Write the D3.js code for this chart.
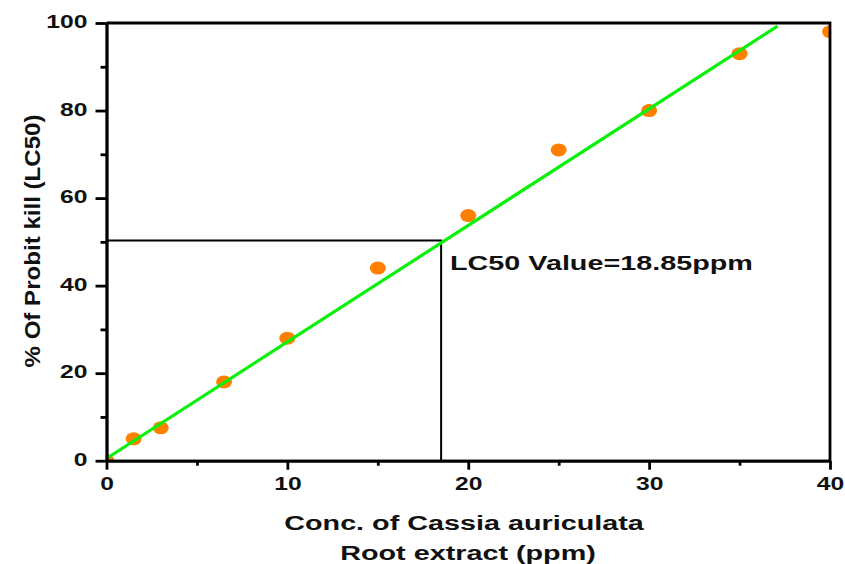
<!DOCTYPE html>
<html>
<head>
<meta charset="utf-8">
<script src="https://cdn.jsdelivr.net/npm/d3@7"></script>
<style>
  body { margin: 0; background: #fff; }
  text { font-family: Arial, "Liberation Sans", sans-serif; font-weight: bold; fill: #111; }
</style>
</head>
<body>
<div id="vis"></div>
<script>
const concX = [0, 1.5, 3, 6.5, 10, 15, 20, 25, 30, 35, 40];
const killY = [0, 5, 7.5, 18, 28, 44, 56, 71, 80, 93, 98];
const fitX = [0, 37.1];
const fitY = [0.5, 99.3];
const lc50X = 18.5;   // where the guide is drawn
const lc50Y = 50.3;
const xMajor = [0, 10, 20, 30, 40];
const xMinor = [5, 15, 25, 35];
const yMajor = [0, 20, 40, 60, 80, 100];
const yMinor = [10, 30, 50, 70, 90];

class ProbitChart {
    constructor() {
        this.config = {
            width: 845,
            height: 564,
            left: 106.5,
            right: 830,
            top: 23,
            bottom: 460.7,
            stretch: 1.37
        }
        this.initVis();
    }
    initVis() {
        let vis = this;
        vis.svg = d3.select('#vis')
            .append('svg')
            .attr('width', vis.config.width)
            .attr('height', vis.config.height);

        vis.x = d3.scaleLinear().domain([0, 40]).range([vis.config.left, vis.config.right]);
        vis.y = d3.scaleLinear().domain([0, 100]).range([vis.config.bottom, vis.config.top]);

        vis.svg.append('clipPath').attr('id', 'plot')
            .append('rect')
            .attr('x', vis.config.left)
            .attr('y', vis.config.top)
            .attr('width', vis.config.right - vis.config.left)
            .attr('height', vis.config.bottom - vis.config.top);
    }
    renderVis() {
        let vis = this;
        const x = vis.x, y = vis.y, sx = vis.config.stretch;

        // points
        vis.svg.append('g')
            .attr('clip-path', 'url(#plot)')
            .selectAll('ellipse')
            .data(concX.map((c, i) => ({ c: c, k: killY[i] })))
            .join('ellipse')
            .attr('cx', d => x(d.c))
            .attr('cy', d => y(d.k))
            .attr('rx', 8)
            .attr('ry', 6.5)
            .style('fill', '#ff8000');

        // LC50 guides
        vis.svg.append('path')
            .attr('d', `M${x(0)},${y(lc50Y)}H${x(lc50X)}V${y(0)}`)
            .style('fill', 'none')
            .style('stroke', '#000')
            .style('stroke-width', 2);

        // fitted line
        vis.svg.append('path')
            .datum(fitX.map((v, i) => [v, fitY[i]]))
            .attr('d', d3.line().x(d => x(d[0])).y(d => y(d[1])))
            .style('fill', 'none')
            .style('stroke', '#0af00a')
            .style('stroke-width', 3.2);

        // axes
        const xAxis = vis.svg.append('g')
            .attr('transform', `translate(0,${vis.config.bottom})`)
            .call(d3.axisBottom(x).tickValues(xMajor).tickSize(9).tickSizeOuter(0).tickFormat(d3.format('d')));
        vis.svg.append('g')
            .attr('transform', `translate(0,${vis.config.bottom})`)
            .call(d3.axisBottom(x).tickValues(xMinor).tickSize(5).tickSizeOuter(0).tickFormat(''));
        const yAxis = vis.svg.append('g')
            .attr('transform', `translate(${vis.config.left},0)`)
            .call(d3.axisLeft(y).tickValues(yMajor).tickSize(11).tickSizeOuter(0).tickFormat(d3.format('d')));
        vis.svg.append('g')
            .attr('transform', `translate(${vis.config.left},0)`)
            .call(d3.axisLeft(y).tickValues(yMinor).tickSize(6).tickSizeOuter(0).tickFormat(''));

        vis.svg.selectAll('.domain, .tick line')
            .style('stroke', '#000')
            .style('stroke-width', 2.8);

        xAxis.selectAll('text')
            .attr('y', 17)
            .attr('transform', `scale(${sx},1)`)
            .style('font-size', '18px')
            .style('font-family', 'Arial, "Liberation Sans", sans-serif')
            .style('font-weight', 'bold')
            .style('fill', '#111');
        yAxis.selectAll('text')
            .attr('x', -19 / sx)
            .attr('dy', '0.25em')
            .attr('transform', `scale(${sx},1)`)
            .style('font-size', '18px')
            .style('font-family', 'Arial, "Liberation Sans", sans-serif')
            .style('font-weight', 'bold')
            .style('fill', '#111');

        // frame top and right
        vis.svg.append('path')
            .attr('d', `M${x(0)},${y(100)}H${x(40) + 1.4}M${x(40)},${y(100)}V${y(0)}`)
            .style('fill', 'none')
            .style('stroke', '#000')
            .style('stroke-width', 2.8);

        // labels
        const label = (tx, ty, str, size, anchor) => vis.svg.append('text')
            .attr('transform', `translate(${tx},${ty}) scale(${sx},1)`)
            .attr('text-anchor', anchor)
            .style('font-size', size + 'px')
            .text(str);

        label(450, 270, 'LC50 Value=18.85ppm', 21, 'start');
        label(464, 530, 'Conc. of Cassia auriculata', 21, 'middle');
        label(468, 560, 'Root extract (ppm)', 21, 'middle');

        vis.svg.append('text')
            .attr('transform', 'translate(40,241) rotate(-90)')
            .attr('text-anchor', 'middle')
            .attr('textLength', 253)
            .attr('lengthAdjust', 'spacingAndGlyphs')
            .style('font-size', '22px')
            .text('% Of Probit kill (LC50)');
    }
}

const chart = new ProbitChart();
chart.renderVis();
</script>
</body>
</html>
